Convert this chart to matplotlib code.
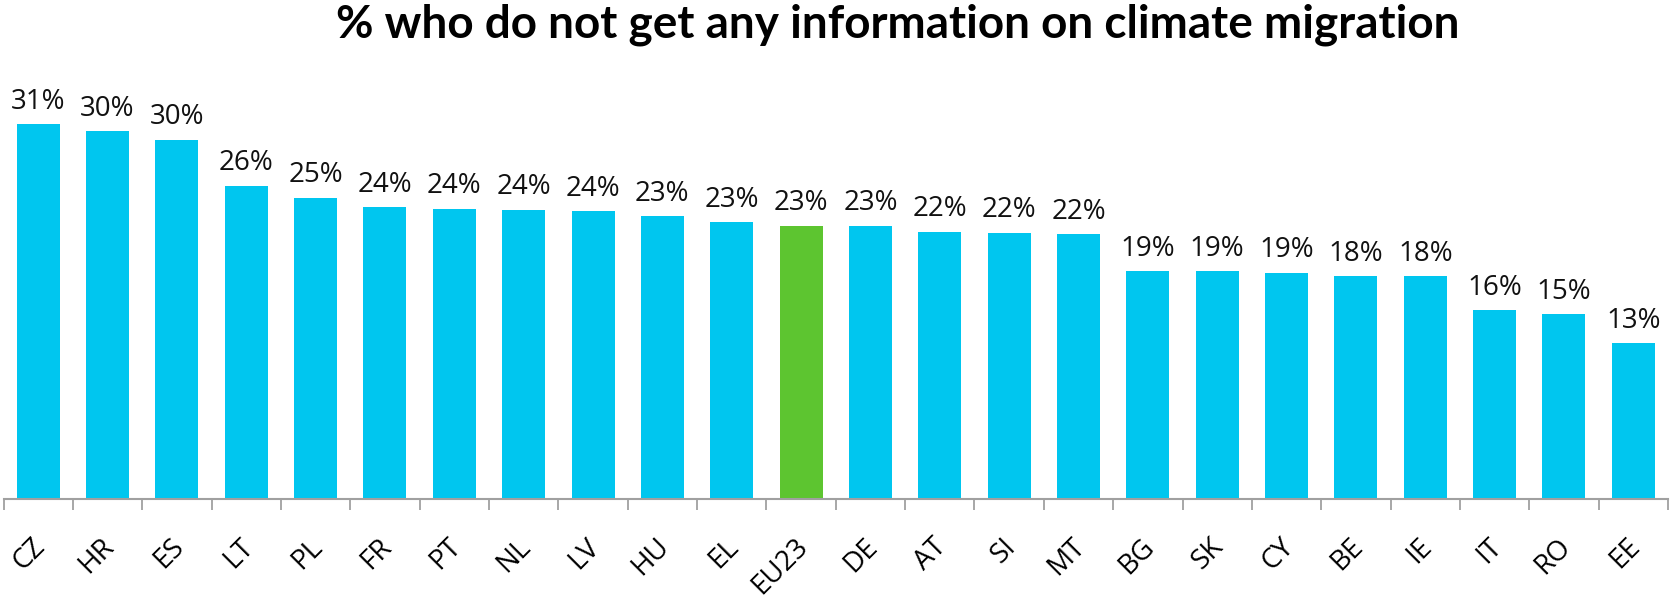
import matplotlib.pyplot as plt
from matplotlib.ticker import FixedLocator

countries = ["CZ", "HR", "ES", "LT", "PL", "FR", "PT", "NL", "LV", "HU", "EL", "EU23",
             "DE", "AT", "SI", "MT", "BG", "SK", "CY", "BE", "IE", "IT", "RO", "EE"]
no_info = [31.0, 30.4, 29.7, 25.9, 24.9, 24.1, 24.0, 23.9, 23.8, 23.4, 22.9, 22.6,
           22.6, 22.1, 22.0, 21.9, 18.8, 18.8, 18.7, 18.4, 18.4, 15.6, 15.3, 12.9]
highlight = "EU23"

BLUE = "#00C6EF"
GREEN = "#5DC530"

plt.rcParams['font.family'] = ["Open Sans", "DejaVu Sans"]

fig = plt.figure(figsize=(16.71, 5.97), dpi=100, facecolor="white")
ax = fig.add_axes([0.0021, 0.1642, 0.9961, 0.6891])

x = list(range(len(countries)))
colors = [GREEN if c == highlight else BLUE for c in countries]
bars = ax.bar(x, no_info, width=0.62, color=colors, edgecolor="none")

# value labels above each bar
for rect, v in zip(bars, no_info):
    ax.annotate(f"{v:.0f}%", xy=(rect.get_x() + rect.get_width() / 2, v),
                xytext=(0, 6), textcoords="offset points",
                ha="center", va="bottom", fontsize=20, color="#111111",
                annotation_clip=False)

ax.set_xlim(-0.5, len(countries) - 0.5)
ax.set_ylim(0, 34)

# tick marks sit between categories; the slanted names are drawn by hand
ax.set_xticks([])
ax.xaxis.set_minor_locator(FixedLocator([i - 0.5 for i in range(len(countries) + 1)]))
ax.tick_params(axis="x", which="minor", length=8, width=1.3, color="#A0A0A0")
ax.set_yticks([])

for i, name in zip(x, countries):
    ax.annotate(name, xy=(i, 0), xycoords=("data", "axes fraction"),
                xytext=(5.5, -35), textcoords="offset points",
                rotation=45, rotation_mode="anchor", ha="right", va="baseline",
                fontsize=20, color="black", annotation_clip=False)

for side in ["top", "right", "left"]:
    ax.spines[side].set_visible(False)
ax.spines["bottom"].set_color("#A0A0A0")
ax.spines["bottom"].set_linewidth(1.5)

fig.text(0.537, 0.937, "% who do not get any information on climate migration",
         ha="center", va="baseline", fontsize=33, fontweight="bold",
         family=["Lato", "DejaVu Sans"], color="black")

fig.savefig("out.png", dpi=100)
